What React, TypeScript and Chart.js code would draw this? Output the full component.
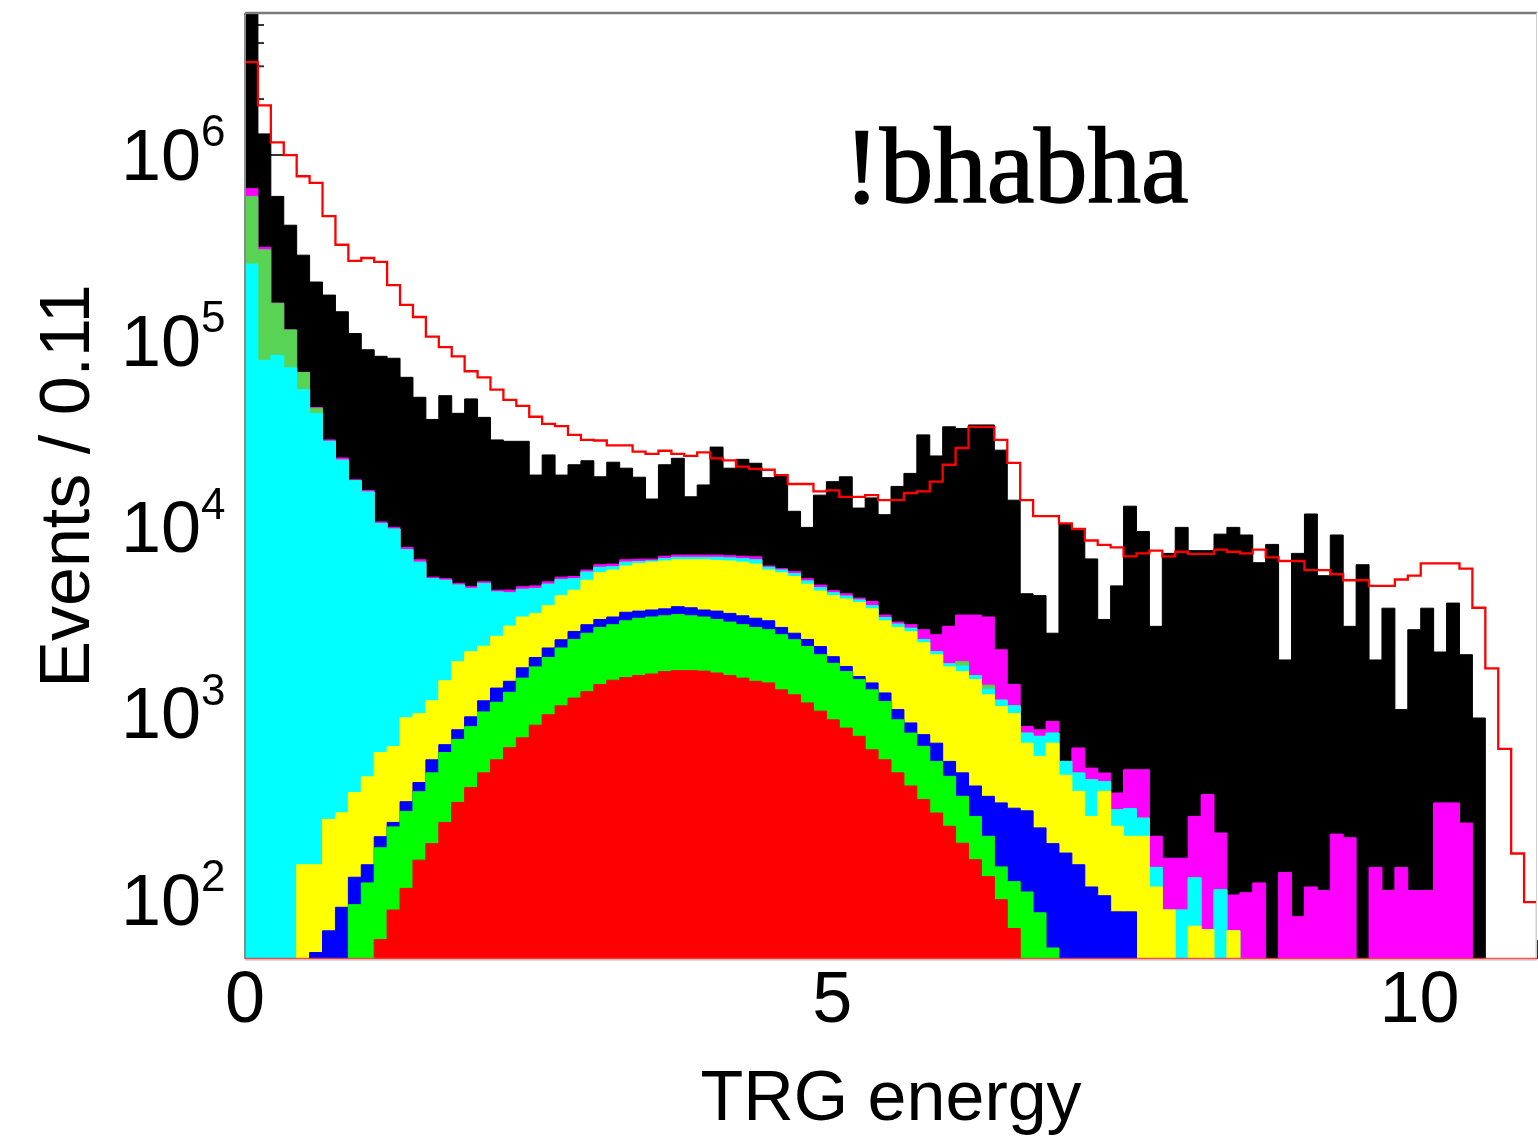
import React, { useEffect, useRef } from "react";
import { Chart, registerables } from "chart.js";

Chart.register(...registerables);

// ---------------- data ----------------
const BIN_WIDTH = 0.11;
const N_BINS = 100;
const X_MIN = 0;
const X_MAX = 11;
const Y_MIN = 48;
const Y_MAX = 5.8e6;
const X_TICK_STEP = 5;
const X_TITLE = "TRG energy";
const Y_TITLE = "Events / 0.11";
const LABEL = "!bhabha";

// red outline histogram (not stacked)
const dataHist = [
  3.16e6, 1.85e6, 1.17e6, 1.0e6, 7.7e5, 7.1e5, 4.7e5, 3.3e5, 2.7e5, 2.8e5,
  2.67e5, 2.0e5, 1.57e5, 1.35e5, 1.06e5, 9.3e4, 8.3e4, 6.9e4, 6.4e4, 5.5e4,
  4.84e4, 4.5e4, 3.93e4, 3.6e4, 3.5e4, 3.14e4, 2.95e4, 2.93e4, 2.76e4, 2.76e4,
  2.55e4, 2.48e4, 2.58e4, 2.48e4, 2.42e4, 2.53e4, 2.35e4, 2.29e4, 2.12e4, 2.06e4,
  2.04e4, 1.91e4, 1.71e4, 1.71e4, 1.56e4, 1.58e4, 1.46e4, 1.46e4, 1.49e4, 1.4e4,
  1.4e4, 1.53e4, 1.56e4, 1.76e4, 2.17e4, 2.67e4, 3.47e4, 3.47e4, 2.95e4, 2.22e4,
  1.4e4, 1.15e4, 1.15e4, 1.05e4, 9.8e3, 8.5e3, 8.05e3, 7.8e3, 6.98e3, 7.25e3,
  7.5e3, 6.98e3, 7.4e3, 7.2e3, 7.2e3, 7.6e3, 7.4e3, 7.25e3, 7.6e3, 6.9e3,
  6.6e3, 6.6e3, 5.9e3, 5.9e3, 5.6e3, 5.2e3, 5.2e3, 4.85e3, 4.85e3, 5.25e3,
  5.5e3, 6.4e3, 6.4e3, 6.4e3, 6.0e3, 3.7e3, 1.75e3, 646, 177, 97,
];

// stacked levels (top of each cumulative layer)
const stackBlack = [
  8e6, 1.3e6, 6.0e5, 4.2e5, 2.9e5, 2.08e5, 1.77e5, 1.44e5, 1.1e5, 9.0e4,
  8.3e4, 8.1e4, 6.4e4, 5.0e4, 3.8e4, 5.1e4, 4.1e4, 4.9e4, 3.9e4, 2.95e4,
  2.9e4, 2.9e4, 1.91e4, 2.45e4, 1.91e4, 2.17e4, 2.28e4, 1.87e4, 2.24e4, 2.08e4,
  1.86e4, 1.42e4, 2.17e4, 2.35e4, 1.46e4, 1.69e4, 2.7e4, 2.08e4, 2.32e4, 2.21e4,
  1.85e4, 1.91e4, 1.22e4, 1.0e4, 1.49e4, 1.76e4, 1.87e4, 1.27e4, 1.44e4, 1.17e4,
  1.66e4, 1.95e4, 3.14e4, 2.42e4, 3.47e4, 3.4e4, 3.55e4, 3.55e4, 2.6e4, 1.4e4,
  4.4e3, 4.3e3, 2.7e3, 1.05e4, 9.8e3, 6.77e3, 3.2e3, 4.85e3, 1.3e4, 9.5e3,
  2.94e3, 7.25e3, 1.0e4, 7.5e3, 7.5e3, 9.2e3, 1.0e4, 9.1e3, 6.46e3, 8.1e3,
  1.94e3, 7.25e3, 1.18e4, 5.5e3, 9.1e3, 2.94e3, 6.3e3, 1.94e3, 3.68e3, 1.05e3,
  2.82e3, 3.68e3, 2.14e3, 3.92e3, 2.07e3, 946, 0, 0, 0, 0,
];

const stackMagenta = [
  6.6e5, 3.2e5, 1.6e5, 1.15e5, 6.8e4, 4.4e4, 2.95e4, 2.36e4, 1.8e4, 1.58e4,
  1.07e4, 1.0e4, 7.8e3, 6.7e3, 5.4e3, 5.3e3, 5.0e3, 4.8e3, 5.1e3, 4.6e3,
  4.6e3, 4.8e3, 4.85e3, 5.1e3, 5.4e3, 5.45e3, 5.9e3, 6.3e3, 6.35e3, 6.7e3,
  6.75e3, 6.75e3, 7.0e3, 7.1e3, 7.1e3, 7.1e3, 7.1e3, 7.05e3, 7.0e3, 6.95e3,
  6.2e3, 6.0e3, 5.8e3, 5.3e3, 4.9e3, 4.57e3, 4.4e3, 4.17e3, 4.0e3, 3.38e3,
  3.1e3, 3.0e3, 2.82e3, 2.65e3, 2.94e3, 3.38e3, 3.38e3, 3.3e3, 2.2e3, 1.43e3,
  853, 818, 906, 553, 653, 509, 479, 374, 499, 499,
  219, 167, 167, 280, 367, 228, 106, 109, 123, 0,
  140, 81, 117, 112, 225, 215, 0, 149, 112, 149,
  112, 112, 331, 331, 258, 0, 0, 0, 0, 0,
];

const stackLightGreen = [
  6.0e5, 3.1e5, 1.6e5, 1.15e5, 6.8e4, 4.37e4, 2.9e4, 2.3e4, 1.78e4, 1.55e4,
  1.05e4, 9.8e3, 7.6e3, 6.5e3, 5.3e3, 5.2e3, 4.9e3, 4.7e3, 5.0e3, 4.5e3,
  4.45e3, 4.65e3, 4.7e3, 4.95e3, 5.25e3, 5.3e3, 5.75e3, 6.1e3, 6.15e3, 6.5e3,
  6.55e3, 6.6e3, 6.8e3, 6.9e3, 6.9e3, 6.9e3, 6.9e3, 6.85e3, 6.8e3, 6.7e3,
  6.1e3, 5.9e3, 5.65e3, 5.15e3, 4.75e3, 4.45e3, 4.27e3, 4.07e3, 3.8e3, 3.28e3,
  3.02e3, 2.87e3, 2.5e3, 2.15e3, 1.85e3, 1.9e3, 1.6e3, 1.42e3, 1.18e3, 1.1e3,
  785, 754, 785, 553, 479, 441, 431, 304, 308, 274,
  149, 88, 88, 131, 69, 113, 68, 0, 0, 0,
  0, 0, 0, 0, 0, 0, 0, 0, 0, 0,
  0, 0, 0, 0, 0, 0, 0, 0, 0, 0,
];

const stackCyan = [
  2.6e5, 7.9e4, 8.4e4, 7.2e4, 5.5e4, 4.1e4, 2.9e4, 2.3e4, 1.78e4, 1.55e4,
  1.05e4, 9.8e3, 7.6e3, 6.5e3, 5.3e3, 5.2e3, 4.9e3, 4.7e3, 5.0e3, 4.5e3,
  4.45e3, 4.65e3, 4.7e3, 4.95e3, 5.25e3, 5.3e3, 5.75e3, 6.1e3, 6.15e3, 6.5e3,
  6.55e3, 6.6e3, 6.8e3, 6.9e3, 6.9e3, 6.9e3, 6.9e3, 6.85e3, 6.8e3, 6.7e3,
  6.1e3, 5.9e3, 5.65e3, 5.15e3, 4.75e3, 4.45e3, 4.27e3, 4.07e3, 3.8e3, 3.28e3,
  3.02e3, 2.87e3, 2.5e3, 2.15e3, 1.85e3, 1.8e3, 1.6e3, 1.35e3, 1.18e3, 1.1e3,
  785, 754, 785, 553, 479, 441, 431, 304, 308, 274,
  149, 88, 88, 131, 69, 113, 68, 0, 0, 0,
  0, 0, 0, 0, 0, 0, 0, 0, 0, 0,
  0, 0, 0, 0, 0, 0, 0, 0, 0, 0,
];

const stackYellow = [
  0, 0, 0, 0, 154, 154, 270, 293, 376, 457,
  617, 665, 948, 1000, 1170, 1500, 1900, 2150, 2300, 2600,
  2950, 3300, 3450, 3800, 4300, 4600, 5200, 5700, 5900, 6200,
  6400, 6500, 6600, 6700, 6700, 6700, 6650, 6600, 6500, 6350,
  5900, 5700, 5450, 4950, 4550, 4300, 4120, 3950, 3650, 3150,
  2900, 2750, 2400, 2070, 1780, 1680, 1520, 1260, 1090, 1000,
  693, 589, 693, 466, 382, 280, 382, 248, 219, 219,
  117, 88, 0, 72, 69, 0, 68, 0, 0, 0,
  0, 0, 0, 0, 0, 0, 0, 0, 0, 0,
  0, 0, 0, 0, 0, 0, 0, 0, 0, 0,
];

const stackBlue = [
  0, 0, 0, 0, 0, 52, 68, 91, 132, 154,
  218, 260, 336, 426, 564, 680, 818, 960, 1170, 1370,
  1490, 1760, 2000, 2250, 2490, 2760, 3000, 3200, 3300, 3500,
  3550, 3600, 3650, 3750, 3700, 3600, 3550, 3450, 3350, 3250,
  3150, 2900, 2700, 2500, 2290, 2020, 1790, 1580, 1460, 1290,
  1050, 890, 770, 693, 553, 480, 408, 359, 331, 310,
  300, 243, 200, 178, 154, 117, 105, 86, 86, 0,
  0, 0, 0, 0, 0, 0, 0, 0, 0, 0,
  0, 0, 0, 0, 0, 0, 0, 0, 0, 0,
  0, 0, 0, 0, 0, 0, 0, 0, 0, 0,
];

const stackGreen = [
  0, 0, 0, 0, 0, 0, 0, 0, 94, 123,
  190, 246, 298, 380, 480, 617, 725, 850, 1020, 1150,
  1300, 1550, 1780, 2000, 2250, 2500, 2700, 2900, 3000, 3150,
  3250, 3300, 3350, 3400, 3350, 3300, 3200, 3100, 3000, 2900,
  2820, 2650, 2490, 2290, 2070, 1860, 1680, 1520, 1340, 1160,
  925, 785, 666, 553, 460, 359, 280, 219, 150, 125,
  110, 85, 55, 0, 0, 0, 0, 0, 0, 0,
  0, 0, 0, 0, 0, 0, 0, 0, 0, 0,
  0, 0, 0, 0, 0, 0, 0, 0, 0, 0,
  0, 0, 0, 0, 0, 0, 0, 0, 0, 0,
];

const stackRed = [
  0, 0, 0, 0, 0, 0, 0, 0, 0, 0,
  61, 88, 115, 163, 200, 260, 333, 400, 480, 564,
  655, 740, 866, 985, 1100, 1210, 1310, 1430, 1510, 1560,
  1600, 1630, 1680, 1700, 1700, 1690, 1650, 1600, 1550, 1490,
  1460, 1340, 1260, 1140, 1030, 925, 835, 754, 638, 564,
  480, 408, 345, 292, 248, 201, 164, 133, 100, 70,
  0, 0, 0, 0, 0, 0, 0, 0, 0, 0,
  0, 0, 0, 0, 0, 0, 0, 0, 0, 0,
  0, 0, 0, 0, 0, 0, 0, 0, 0, 0,
  0, 0, 0, 0, 0, 0, 0, 0, 0, 0,
];

const LAYERS = [
  { name: "red", values: stackRed, color: "#ff0000" },
  { name: "green", values: stackGreen, color: "#00ff00" },
  { name: "blue", values: stackBlue, color: "#0000ff" },
  { name: "yellow", values: stackYellow, color: "#ffff00" },
  { name: "cyan", values: stackCyan, color: "#00ffff" },
  { name: "lightgreen", values: stackLightGreen, color: "#59d354" },
  { name: "magenta", values: stackMagenta, color: "#ff00ff" },
  { name: "black", values: stackBlack, color: "#000000" },
];

// ---------------- helpers ----------------
const FLOOR = 1; // below the axis minimum, used for empty bins on the log axis
const SANS = '"Liberation Sans", Arial, Helvetica, sans-serif';
const SERIF = '"Liberation Serif", "Times New Roman", serif';

function toSteps(values: number[]) {
  const pts = values.map((v, i) => ({ x: Math.round(i * BIN_WIDTH * 1000) / 1000, y: v > 0 ? v : FLOOR }));
  const last = values[values.length - 1];
  pts.push({ x: N_BINS * BIN_WIDTH, y: last > 0 ? last : FLOOR });
  return pts;
}

function isNiceLog(v: number) {
  const e = Math.floor(Math.log10(v) + 1e-9);
  const m = v / Math.pow(10, e);
  return Math.abs(m - Math.round(m)) < 1e-6 ? Math.round(m) : 0;
}

const decorPlugin = {
  id: "rootDecor",
  beforeDatasetsDraw(chart: any) {
    const { ctx, chartArea: a, scales } = chart;
    const x = scales.x;
    const y = scales.y;
    ctx.save();
    ctx.strokeStyle = "#333";
    ctx.lineWidth = 2;
    for (const t of y.ticks) {
      const m = isNiceLog(t.value);
      if (!m) continue;
      const py = y.getPixelForValue(t.value);
      if (py < a.top || py > a.bottom) continue;
      const len = m === 1 ? 38 : 19;
      ctx.beginPath();
      ctx.moveTo(a.left, py);
      ctx.lineTo(a.left + len, py);
      ctx.stroke();
    }
    for (let k = Math.ceil(X_MIN); k <= X_MAX; k++) {
      const px = x.getPixelForValue(k);
      const len = k % X_TICK_STEP === 0 ? 38 : 19;
      ctx.beginPath();
      ctx.moveTo(px, a.bottom);
      ctx.lineTo(px, a.bottom - len);
      ctx.stroke();
    }
    ctx.restore();
  },
  afterDatasetsDraw(chart: any) {
    const { ctx, chartArea: a } = chart;
    ctx.save();
    // frame
    ctx.strokeStyle = "#7a7a7a";
    ctx.lineWidth = 2.5;
    ctx.beginPath();
    ctx.moveTo(a.left, a.top);
    ctx.lineTo(a.right, a.top);
    ctx.stroke();
    ctx.strokeStyle = "#8a8a8a";
    ctx.lineWidth = 2;
    ctx.beginPath();
    ctx.moveTo(a.left, a.top);
    ctx.lineTo(a.left, a.bottom);
    ctx.stroke();
    ctx.strokeStyle = "#d0d0d0";
    ctx.lineWidth = 1;
    ctx.beginPath();
    ctx.moveTo(a.right - 0.5, a.top);
    ctx.lineTo(a.right - 0.5, a.bottom);
    ctx.stroke();
    ctx.strokeStyle = "#bbbbbb";
    ctx.lineWidth = 1;
    ctx.beginPath();
    ctx.moveTo(a.left, a.bottom + 1);
    ctx.lineTo(a.right, a.bottom + 1);
    ctx.stroke();
    ctx.strokeStyle = "rgba(255,60,60,0.9)";
    ctx.lineWidth = 1.5;
    ctx.beginPath();
    ctx.moveTo(a.left, a.bottom - 0.5);
    ctx.lineTo(a.right, a.bottom - 0.5);
    ctx.stroke();
    ctx.restore();
  },
  afterDraw(chart: any) {
    const { ctx, chartArea: a, scales } = chart;
    const y = scales.y;
    ctx.save();
    ctx.fillStyle = "#000";
    for (const t of y.ticks) {
      if (isNiceLog(t.value) !== 1) continue;
      const py = y.getPixelForValue(t.value);
      if (py < a.top - 1 || py > a.bottom + 1) continue;
      const exp = Math.round(Math.log10(t.value));
      const xr = a.left - 44;
      ctx.font = `72px ${SANS}`;
      ctx.textAlign = "right";
      ctx.textBaseline = "middle";
      ctx.fillText("10", xr, py + 5);
      ctx.font = `44px ${SANS}`;
      ctx.textAlign = "left";
      ctx.fillText(String(exp), xr, py - 21);
    }
    ctx.font = `107px ${SERIF}`;
    ctx.textAlign = "left";
    ctx.textBaseline = "alphabetic";
    ctx.lineWidth = 1.6;
    ctx.strokeStyle = "#000";
    ctx.fillText(LABEL, a.left + 599, a.top + 189);
    ctx.strokeText(LABEL, a.left + 599, a.top + 189);
    ctx.restore();
  },
};

export default function App() {
  const canvasRef = useRef<HTMLCanvasElement | null>(null);

  useEffect(() => {
    if (!canvasRef.current) return;
    const datasets: any[] = [
      {
        label: "data",
        data: [...toSteps(dataHist), { x: N_BINS * BIN_WIDTH, y: FLOOR }],
        stepped: "before",
        borderColor: "#ff0000",
        borderWidth: 2.3,
        fill: false,
        pointRadius: 0,
      },
      ...LAYERS.map((l) => ({
        label: l.name,
        data: toSteps(l.values),
        stepped: "before",
        borderColor: l.color,
        backgroundColor: l.color,
        borderWidth: 1,
        fill: "start",
        pointRadius: 0,
      })),
    ];

    const chart = new Chart(canvasRef.current, {
      type: "line",
      data: { datasets },
      options: {
        animation: false,
        responsive: true,
        maintainAspectRatio: false,
        events: [],
        layout: { padding: { left: 0, right: 1, top: 13, bottom: 0 } },
        plugins: { legend: { display: false }, tooltip: { enabled: false } },
        scales: {
          x: {
            type: "linear",
            min: X_MIN,
            max: X_MAX,
            grid: { display: false, drawTicks: false },
            border: { display: false },
            ticks: {
              stepSize: X_TICK_STEP,
              includeBounds: false,
              autoSkip: false,
              maxRotation: 0,
              padding: 0,
              color: "#000",
              font: { family: SANS, size: 72 },
              callback: (v: any) => String(v),
            },
            title: {
              display: true,
              text: X_TITLE,
              color: "#000",
              font: { family: SANS, size: 70 },
              padding: { top: 0, bottom: 2 },
            },
            afterFit: (s: any) => {
              s.height = 186;
            },
          },
          y: {
            type: "logarithmic",
            min: Y_MIN,
            max: Y_MAX,
            grid: { display: false, drawTicks: false },
            border: { display: false },
            ticks: { display: false },
            title: {
              display: true,
              text: Y_TITLE,
              color: "#000",
              font: { family: SANS, size: 70 },
              padding: { top: 28, bottom: 0 },
            },
            afterFit: (s: any) => {
              s.width = 245;
            },
          },
        },
      } as any,
      plugins: [decorPlugin],
    });
    return () => chart.destroy();
  }, []);

  return (
    <div style={{ position: "absolute", left: 0, top: 0, width: 1538, height: 1145, background: "#fff" }}>
      <canvas ref={canvasRef} />
    </div>
  );
}
